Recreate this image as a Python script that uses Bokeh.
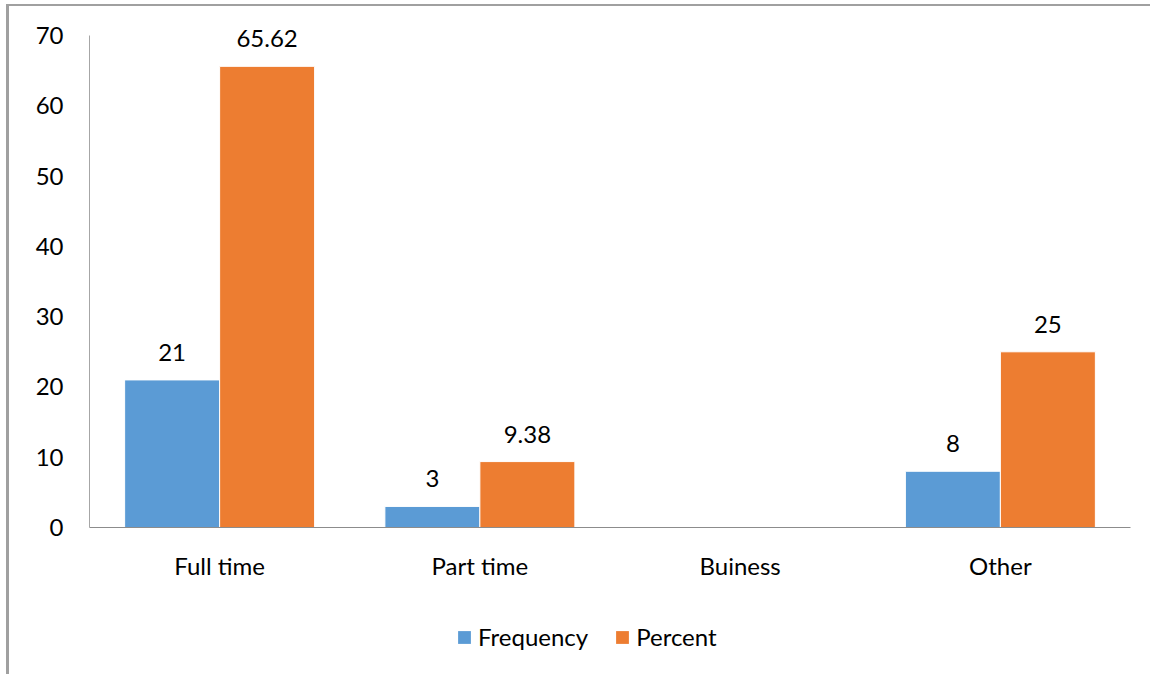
from bokeh.plotting import figure
from bokeh.layouts import column
from bokeh.models import ColumnDataSource, FactorRange, Range1d, FixedTicker, LabelSet, Legend, LegendItem
from bokeh.core.properties import value
from bokeh.transform import dodge
from bokeh.embed import file_html
from bokeh.resources import INLINE

categories = ["Full time", "Part time", "Buiness", "Other"]
frequency = [21, 3, None, 8]
percent = [65.62, 9.38, None, 25]
y_ticks = [0, 10, 20, 30, 40, 50, 60, 70]
y_max = 70
series_names = ["Frequency", "Percent"]

FONT = "Lato"
FS = "24px"
BLUE = "#5B9BD5"
ORANGE = "#ED7D31"

def num(v):
    return float("nan") if v is None else v

def lab(v):
    return "" if v is None else f"{v:g}"

src = ColumnDataSource(dict(
    cat=categories,
    freq=[num(v) for v in frequency],
    pct=[num(v) for v in percent],
    freq_lab=[lab(v) for v in frequency],
    pct_lab=[lab(v) for v in percent],
))

W = 1141
p = figure(x_range=FactorRange(*categories), y_range=Range1d(0, 72),
           width=W, height=600, output_backend="svg", toolbar_location=None,
           min_border_left=80, min_border_right=20, min_border_top=15, min_border_bottom=79)

bw = 0.365
p.vbar(x=dodge("cat", -bw / 2, range=p.x_range), top="freq", width=bw, source=src,
       fill_color=BLUE, line_color="white", line_width=1)
p.vbar(x=dodge("cat", bw / 2, range=p.x_range), top="pct", width=bw, source=src,
       fill_color=ORANGE, line_color="white", line_width=1)

for col, off in (("freq", -bw / 2), ("pct", bw / 2)):
    ls = LabelSet(x=dodge("cat", off, range=p.x_range), y=col, text=col + "_lab", source=src,
                  text_align="center", text_baseline="alphabetic", y_offset=19,
                  text_font=value(FONT), text_font_size=value(FS), text_color="#000000")
    p.add_layout(ls)

p.outline_line_color = None
p.xgrid.grid_line_color = None
p.ygrid.grid_line_color = None

p.yaxis.ticker = FixedTicker(ticks=y_ticks)
p.yaxis.bounds = (0, y_max)
p.yaxis.major_tick_line_color = None
p.yaxis.minor_tick_line_color = None
p.yaxis.axis_line_color = "#a6a6a6"
p.yaxis.major_label_standoff = 20
p.yaxis.major_label_text_font = FONT
p.yaxis.major_label_text_font_size = FS
p.yaxis.major_label_text_color = "#000000"

p.xaxis.major_tick_line_color = None
p.xaxis.minor_tick_line_color = None
p.xaxis.axis_line_color = "#8c8c8c"
p.xaxis.major_label_standoff = 17
p.xaxis.major_label_text_font = FONT
p.xaxis.major_label_text_font_size = FS
p.xaxis.major_label_text_color = "#000000"

# legend strip
p2 = figure(width=W, height=68, x_range=(0, 1), y_range=(0, 1), output_backend="svg",
            toolbar_location=None, min_border=0, x_axis_type=None, y_axis_type=None)
p2.grid.grid_line_color = None
p2.outline_line_color = None
g1 = p2.vbar(x=[0.5], top=[0], bottom=[0], width=0.0, fill_color=BLUE, line_color=None)
g2 = p2.vbar(x=[0.5], top=[0], bottom=[0], width=0.0, fill_color=ORANGE, line_color=None)
legend = Legend(items=[LegendItem(label=series_names[0], renderers=[g1]),
                       LegendItem(label=series_names[1], renderers=[g2])],
                orientation="horizontal", location=(367, 23),
                border_line_color=None, background_fill_alpha=0,
                label_text_font=FONT, label_text_font_size=FS, label_text_color="#000000",
                glyph_width=16, glyph_height=16, label_standoff=6, spacing=26,
                padding=0, margin=0)
p2.add_layout(legend, "center")

layout = column(p, p2, spacing=0)
layout.styles = {"margin-left": "6px", "margin-top": "4px",
                 "border-left": "3px solid #a0a0a0", "border-top": "2px solid #a0a0a0"}

open("out.html", "w").write(file_html(layout, INLINE))
